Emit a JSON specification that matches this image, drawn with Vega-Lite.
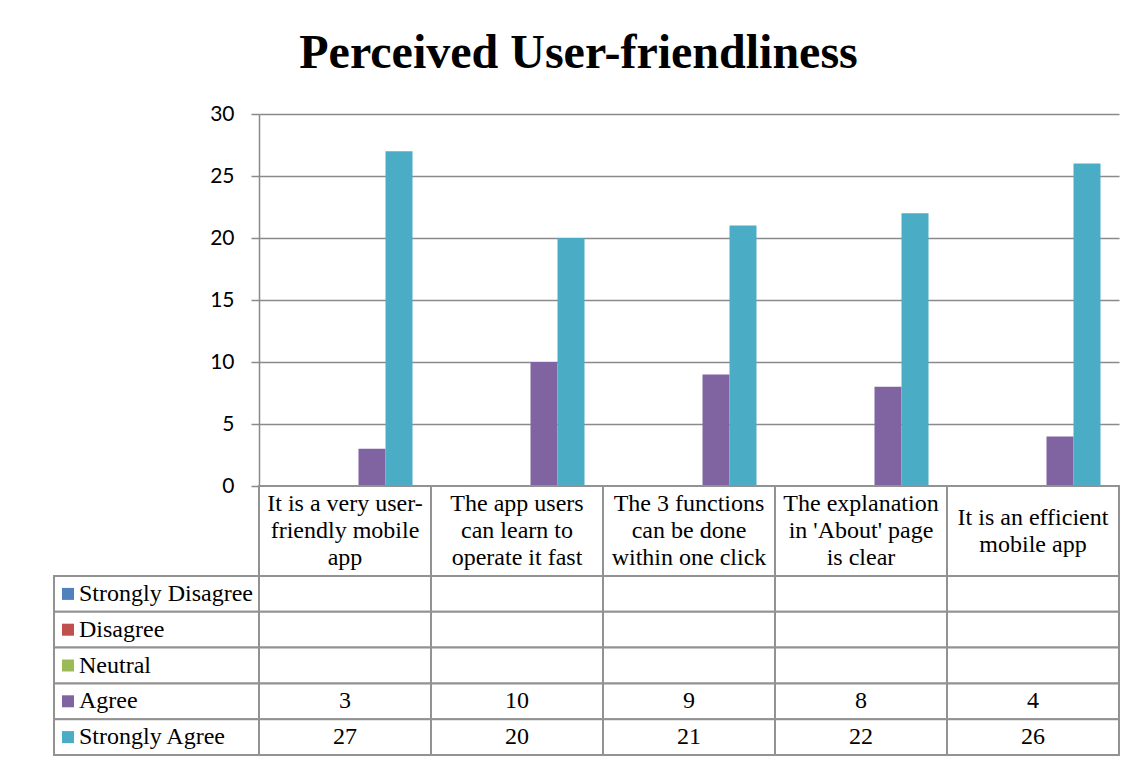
{
  "$schema": "https://vega.github.io/schema/vega-lite/v6.json",
  "padding": {"left": 53, "right": 29, "top": 30, "bottom": 9},
  "background": "white",
  "title": {
    "text": "Perceived User-friendliness",
    "font": "Liberation Serif",
    "fontSize": 48,
    "fontWeight": "bold",
    "color": "black",
    "anchor": "middle",
    "offset": 25,
    "dx": -8
  },
  "datasets": {
    "cats": [
      {"q": "Q1", "label": "It is a very user-\nfriendly mobile\napp"},
      {"q": "Q2", "label": "The app users\ncan learn to\noperate it fast"},
      {"q": "Q3", "label": "The 3 functions\ncan be done\nwithin one click"},
      {"q": "Q4", "label": "The explanation\nin 'About' page\nis clear"},
      {"q": "Q5", "label": "It is an efficient\nmobile app"}
    ],
    "seriesList": [
      {"series": "Strongly Disagree"},
      {"series": "Disagree"},
      {"series": "Neutral"},
      {"series": "Agree"},
      {"series": "Strongly Agree"}
    ],
    "survey": [
      {"q": "Q1", "series": "Strongly Disagree", "value": null},
      {"q": "Q1", "series": "Disagree", "value": null},
      {"q": "Q1", "series": "Neutral", "value": null},
      {"q": "Q1", "series": "Agree", "value": 3},
      {"q": "Q1", "series": "Strongly Agree", "value": 27},
      {"q": "Q2", "series": "Strongly Disagree", "value": null},
      {"q": "Q2", "series": "Disagree", "value": null},
      {"q": "Q2", "series": "Neutral", "value": null},
      {"q": "Q2", "series": "Agree", "value": 10},
      {"q": "Q2", "series": "Strongly Agree", "value": 20},
      {"q": "Q3", "series": "Strongly Disagree", "value": null},
      {"q": "Q3", "series": "Disagree", "value": null},
      {"q": "Q3", "series": "Neutral", "value": null},
      {"q": "Q3", "series": "Agree", "value": 9},
      {"q": "Q3", "series": "Strongly Agree", "value": 21},
      {"q": "Q4", "series": "Strongly Disagree", "value": null},
      {"q": "Q4", "series": "Disagree", "value": null},
      {"q": "Q4", "series": "Neutral", "value": null},
      {"q": "Q4", "series": "Agree", "value": 8},
      {"q": "Q4", "series": "Strongly Agree", "value": 22},
      {"q": "Q5", "series": "Strongly Disagree", "value": null},
      {"q": "Q5", "series": "Disagree", "value": null},
      {"q": "Q5", "series": "Neutral", "value": null},
      {"q": "Q5", "series": "Agree", "value": 4},
      {"q": "Q5", "series": "Strongly Agree", "value": 26}
    ]
  },
  "columns": 2,
  "spacing": 0,
  "bounds": "flush",
  "align": "each",
  "resolve": {"scale": {"x": "independent", "y": "independent"}},
  "concat": [
    {
      "width": 205,
      "height": 372,
      "data": {"values": []},
      "mark": "point",
      "encoding": {}
    },
    {
      "width": 860,
      "height": 372,
      "data": {"name": "survey"},
      "mark": {"type": "bar"},
      "encoding": {
        "x": {"field": "q", "type": "nominal", "scale": {"paddingInner": 0, "paddingOuter": 0}, "axis": null},
        "xOffset": {
          "field": "series",
          "type": "nominal",
          "scale": {
            "domain": ["Strongly Disagree", "Disagree", "Neutral", "Agree", "Strongly Agree"],
            "paddingInner": 0,
            "paddingOuter": 0.685
          }
        },
        "y": {
          "field": "value",
          "type": "quantitative",
          "scale": {"domain": [0, 30]},
          "axis": {
            "values": [0, 5, 10, 15, 20, 25, 30],
            "title": null,
            "grid": true,
            "gridColor": "#8a8a8a",
            "gridWidth": 1.5,
            "gridOpacity": 1,
            "domainColor": "#8a8a8a",
            "domainWidth": 1.5,
            "tickColor": "#8a8a8a",
            "tickWidth": 1.5,
            "tickSize": 8,
            "labelFont": "Lato",
            "labelFontSize": 21,
            "labelColor": "black",
            "labelPadding": 17
          }
        },
        "color": {
          "field": "series",
          "type": "nominal",
          "scale": {
            "domain": ["Strongly Disagree", "Disagree", "Neutral", "Agree", "Strongly Agree"],
            "range": ["#4F81BD", "#C0504D", "#9BBB59", "#8064A2", "#4BACC6"]
          },
          "legend": null
        }
      }
    },
    {
      "width": 205,
      "height": 90,
      "data": {"values": []},
      "mark": "point",
      "encoding": {}
    },
    {
      "width": 860,
      "height": 90,
      "data": {"name": "cats"},
      "layer": [
        {
          "mark": {"type": "rect", "fill": "white", "stroke": "#929292", "strokeWidth": 2},
          "encoding": {
            "x": {"field": "q", "type": "nominal", "scale": {"paddingInner": 0, "paddingOuter": 0}, "axis": null}
          }
        },
        {
          "transform": [{"filter": "length(split(datum.label, '\\n')) == 3"}],
          "mark": {"type": "text", "font": "Liberation Serif", "fontSize": 24, "lineHeight": 27, "lineBreak": "\n", "baseline": "middle", "color": "black"},
          "encoding": {
            "x": {"field": "q", "type": "nominal", "axis": null},
            "y": {"value": 18},
            "text": {"field": "label"}
          }
        },
        {
          "transform": [{"filter": "length(split(datum.label, '\\n')) == 2"}],
          "mark": {"type": "text", "font": "Liberation Serif", "fontSize": 24, "lineHeight": 27, "lineBreak": "\n", "baseline": "middle", "color": "black"},
          "encoding": {
            "x": {"field": "q", "type": "nominal", "axis": null},
            "y": {"value": 32},
            "text": {"field": "label"}
          }
        }
      ]
    },
    {
      "width": 205,
      "height": 179,
      "data": {"name": "seriesList"},
      "layer": [
        {
          "mark": {"type": "rect", "fill": "white", "stroke": "#929292", "strokeWidth": 2},
          "encoding": {
            "y": {"field": "series", "type": "nominal", "sort": null, "scale": {"paddingInner": 0, "paddingOuter": 0}, "axis": null}
          }
        },
        {
          "mark": {"type": "point", "shape": "square", "filled": true, "size": 144, "opacity": 1},
          "encoding": {
            "y": {"field": "series", "type": "nominal", "sort": null, "axis": null},
            "x": {"value": 14},
            "color": {"field": "series", "type": "nominal", "legend": null}
          }
        },
        {
          "mark": {"type": "text", "font": "Liberation Serif", "fontSize": 24, "align": "left", "baseline": "middle", "color": "black"},
          "encoding": {
            "y": {"field": "series", "type": "nominal", "sort": null, "axis": null},
            "x": {"value": 25},
            "text": {"field": "series"}
          }
        }
      ]
    },
    {
      "width": 860,
      "height": 179,
      "data": {"name": "survey"},
      "layer": [
        {
          "mark": {"type": "rect", "fill": "white", "stroke": "#929292", "strokeWidth": 2},
          "encoding": {
            "x": {"field": "q", "type": "nominal", "scale": {"paddingInner": 0, "paddingOuter": 0}, "axis": null},
            "y": {
              "field": "series",
              "type": "nominal",
              "scale": {"domain": ["Strongly Disagree", "Disagree", "Neutral", "Agree", "Strongly Agree"], "paddingInner": 0, "paddingOuter": 0},
              "axis": null
            }
          }
        },
        {
          "transform": [{"filter": "datum.value != null"}],
          "mark": {"type": "text", "font": "Liberation Serif", "fontSize": 24, "baseline": "middle", "color": "black"},
          "encoding": {
            "x": {"field": "q", "type": "nominal", "axis": null},
            "y": {"field": "series", "type": "nominal", "axis": null},
            "text": {"field": "value", "type": "quantitative"}
          }
        }
      ]
    }
  ],
  "config": {
    "view": {"stroke": null}
  }
}
